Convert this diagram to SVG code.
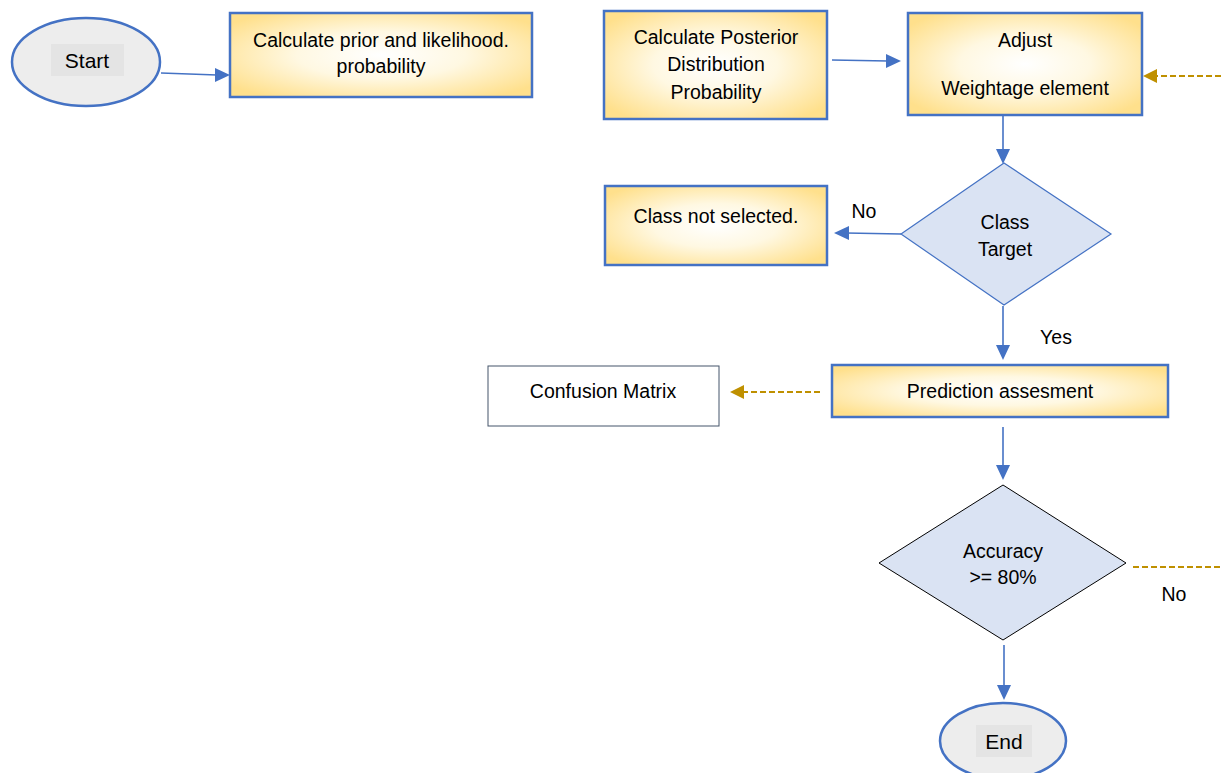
<svg xmlns="http://www.w3.org/2000/svg" width="1221" height="773" viewBox="0 0 1221 773">
<style>
text{font-family:"Liberation Sans",Arial,sans-serif;font-size:19.5px;fill:#000;text-anchor:middle;dominant-baseline:central}
.box{fill:url(#yg);stroke:#4472c4;stroke-width:2.5}
.term{fill:#ededed;stroke:#4472c4;stroke-width:2.5}
.lbl{fill:#e4e4e4}
.dia{fill:#dae3f3;stroke:#4472c4;stroke-width:1.2}
.flow{fill:none;stroke:#4472c4;stroke-width:1.6}
.dash{fill:none;stroke:#bf9000;stroke-width:1.8;stroke-dasharray:6,3}
.ah{fill:#4472c4}
.ag{fill:#bf9000}
</style>
<defs>
<radialGradient id="yg" cx="50%" cy="50%" r="62%">
<stop offset="0" stop-color="#ffffff"/>
<stop offset="0.45" stop-color="#fff8e2"/>
<stop offset="1" stop-color="#ffe08c"/>
</radialGradient>
</defs>
<rect width="1221" height="773" fill="#fff"/>
<g id="connectors">
<line class="flow" x1="161" y1="73" x2="217" y2="75"/>
<path class="ah" d="M215,68 L230,75 L215,82 z"/>
<line class="flow" x1="832" y1="60" x2="888" y2="61"/>
<path class="ah" d="M886,54 L901,61 L886,68 z"/>
<line class="dash" x1="1221" y1="76" x2="1155" y2="76"/>
<path class="ag" d="M1157,69 L1143,76 L1157,83 z"/>
<line class="flow" x1="1003" y1="116" x2="1003" y2="150"/>
<path class="ah" d="M996,149 L1003,164 L1010,149 z"/>
<line class="flow" x1="901" y1="234" x2="846" y2="233"/>
<path class="ah" d="M849,226 L834,233 L849,240 z"/>
<line class="flow" x1="1003" y1="306" x2="1003" y2="347"/>
<path class="ah" d="M996,345 L1003,360 L1010,345 z"/>
<line class="dash" x1="820" y1="392" x2="742" y2="392"/>
<path class="ag" d="M744,385 L730,392 L744,399 z"/>
<line class="flow" x1="1003" y1="427" x2="1003" y2="466"/>
<path class="ah" d="M996,465 L1003,480 L1010,465 z"/>
<line class="dash" x1="1133" y1="567" x2="1221" y2="567"/>
<line class="flow" x1="1004" y1="645" x2="1004" y2="686"/>
<path class="ah" d="M997,685 L1004,700 L1011,685 z"/>
<text x="864" y="211">No</text>
<text x="1056" y="337">Yes</text>
<text x="1174" y="594">No</text>
</g>
<g id="start">
<ellipse class="term" cx="86" cy="62" rx="74" ry="44"/>
<rect class="lbl" x="51" y="44" width="73" height="32"/>
<text x="87" y="60" style="font-size:21px">Start</text>
</g>
<g id="prior">
<rect class="box" x="230" y="13" width="302" height="84"/>
<text x="381" y="40">Calculate prior and likelihood.</text>
<text x="381" y="66">probability</text>
</g>
<g id="posterior">
<rect class="box" x="604" y="11" width="223" height="108"/>
<text x="716" y="37">Calculate Posterior</text>
<text x="716" y="64">Distribution</text>
<text x="716" y="92">Probability</text>
</g>
<g id="adjust">
<rect class="box" x="908" y="13" width="234" height="102"/>
<text x="1025" y="40">Adjust</text>
<text x="1025" y="88">Weightage element</text>
</g>
<g id="classTarget">
<polygon class="dia" points="1004,163 1111,234 1004,305 901,234"/>
<text x="1005" y="222">Class</text>
<text x="1005" y="249">Target</text>
</g>
<g id="notSelected">
<rect class="box" x="605" y="186" width="222" height="79"/>
<text x="716" y="216">Class not selected.</text>
</g>
<g id="prediction">
<rect class="box" x="832" y="365" width="336" height="52"/>
<text x="1000" y="391">Prediction assesment</text>
</g>
<g id="confusion">
<rect x="488" y="366" width="231" height="60" fill="#fff" stroke="#44546a" stroke-width="1"/>
<text x="603" y="391">Confusion Matrix</text>
</g>
<g id="accuracy">
<polygon points="1003,485 1126,563 1003,640 879,563" fill="#dae3f3" stroke="#000" stroke-width="1"/>
<text x="1003" y="551">Accuracy</text>
<text x="1003" y="577">&gt;= 80%</text>
</g>
<g id="end">
<ellipse class="term" cx="1003" cy="741" rx="63" ry="38"/>
<rect class="lbl" x="976" y="725" width="56" height="32"/>
<text x="1004" y="741" style="font-size:21px">End</text>
</g>
</svg>
